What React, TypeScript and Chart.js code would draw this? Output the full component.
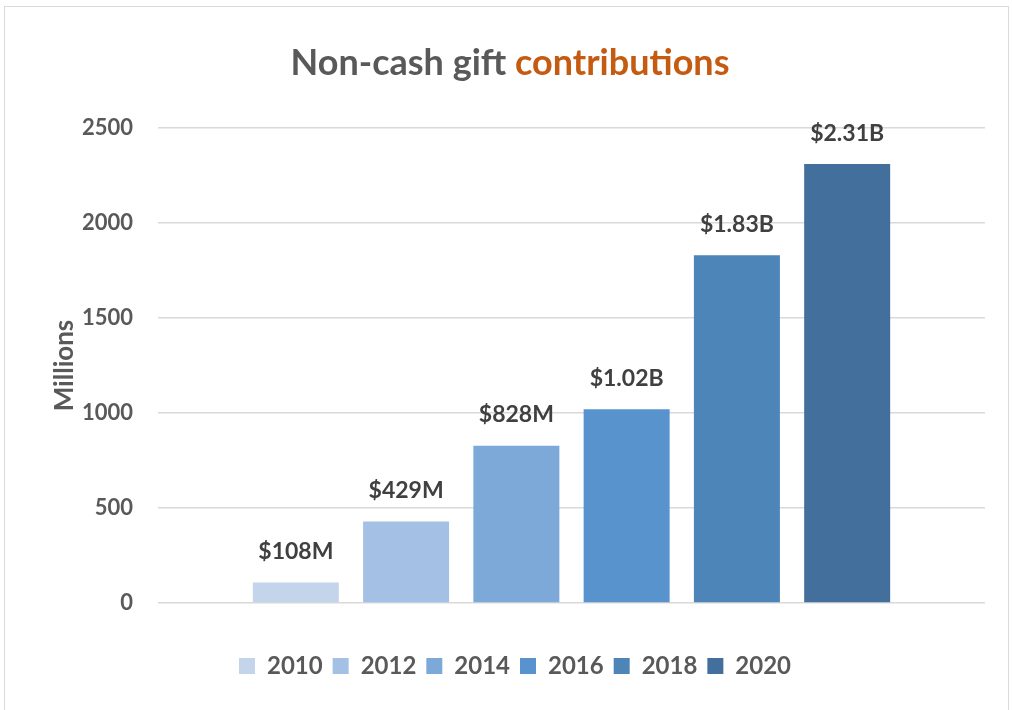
import React, { useEffect, useRef } from "react";
import { Chart, registerables } from "chart.js";

Chart.register(...registerables);

const years = ["2010", "2012", "2014", "2016", "2018", "2020"];
const values = [108, 429, 828, 1020, 1830, 2310];
const valueLabels = ["$108M", "$429M", "$828M", "$1.02B", "$1.83B", "$2.31B"];
const barColors = ["#C3D4EB", "#A4C0E4", "#7DA9D9", "#5893CE", "#4D85B9", "#436F9C"];
const yTicks = [0, 500, 1000, 1500, 2000, 2500];

const FONT = "Lato, 'Open Sans', sans-serif";

const dataLabelPlugin = {
  id: "dataLabels",
  afterDatasetsDraw(chart: any) {
    const ctx = chart.ctx;
    ctx.save();
    ctx.font = `bold 23px ${FONT}`;
    ctx.fillStyle = "#404040";
    ctx.textAlign = "center";
    ctx.textBaseline = "middle";
    chart.data.datasets.forEach((ds: any, i: number) => {
      const meta = chart.getDatasetMeta(i);
      const el = meta.data[0];
      if (!el) return;
      ctx.fillText(valueLabels[i], el.x, el.y - 31);
    });
    ctx.restore();
  },
};

export default function App() {
  const canvasRef = useRef<HTMLCanvasElement | null>(null);

  useEffect(() => {
    if (!canvasRef.current) return;
    const chart = new Chart(canvasRef.current, {
      type: "bar",
      data: {
        labels: [""],
        datasets: years.map((y, i) => ({
          label: y,
          data: [values[i]],
          backgroundColor: barColors[i],
          borderWidth: 0,
          categoryPercentage: 0.8,
          barPercentage: 0.78,
        })),
      },
      options: {
        animation: false,
        responsive: false,
        devicePixelRatio: 1,
        layout: { padding: { top: 128, left: 45, right: 27, bottom: 22 } },
        plugins: {
          title: { display: false },
          tooltip: { enabled: false },
          legend: {
            position: "bottom",
            labels: {
              boxWidth: 16,
              boxHeight: 16,
              padding: 10,
              color: "#595959",
              font: { family: FONT, size: 24, weight: "bold" },
            },
          },
        },
        scales: {
          x: {
            display: true,
            grid: { display: false },
            border: { display: false },
            ticks: { display: false },
            afterFit: (s: any) => {
              s.height = 41;
            },
          },
          y: {
            min: 0,
            max: 2500,
            afterBuildTicks: (s: any) => {
              s.ticks = yTicks.map((v) => ({ value: v }));
            },
            afterFit: (s: any) => {
              s.width = 113;
            },
            grid: { color: "#D9D9D9", lineWidth: 1.5, drawTicks: false },
            border: { display: false },
            ticks: {
              padding: 25,
              color: "#595959",
              font: { family: FONT, size: 22, weight: "bold" },
              callback: (v: any) => String(v),
            },
            title: {
              display: true,
              text: "Millions",
              color: "#595959",
              font: { family: FONT, size: 26, weight: "bold" },
            },
          },
        },
      },
      plugins: [dataLabelPlugin],
    });
    return () => chart.destroy();
  }, []);

  return (
    <div style={{ position: "absolute", left: 0, top: 0, width: 1012, height: 710, background: "#fff", overflow: "hidden" }}>
      <div
        style={{
          position: "absolute",
          left: 4,
          top: 6,
          width: 1005,
          height: 710,
          border: "1px solid #DADADA",
          boxSizing: "border-box",
        }}
      />
      <canvas ref={canvasRef} width={1012} height={710} style={{ position: "absolute", left: 0, top: 0, width: 1012, height: 710 }} />
      <div
        style={{
          position: "absolute",
          left: 0,
          top: 41,
          width: 1020,
          textAlign: "center",
          fontFamily: FONT,
          fontWeight: "bold",
          fontSize: 36,
          lineHeight: "40px",
          color: "#595959",
          whiteSpace: "nowrap",
        }}
      >
        Non-cash gift <span style={{ color: "#C55A11" }}>contributions</span>
      </div>
    </div>
  );
}
